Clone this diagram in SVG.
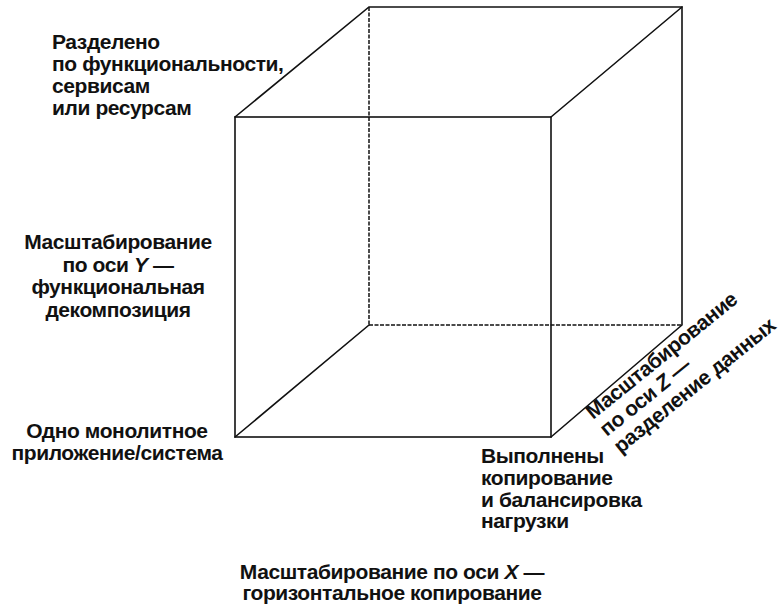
<svg xmlns="http://www.w3.org/2000/svg" width="781" height="607" viewBox="0 0 781 607">
<style>
.e{stroke:#111;stroke-width:1.6;fill:none;stroke-linecap:round}
.h{stroke:#111;stroke-width:1.5;fill:none;stroke-dasharray:4 1.5}
text{font-family:"Liberation Sans",Arial,sans-serif;font-weight:bold;font-size:21px;fill:#111;letter-spacing:-0.4px}
.c{text-anchor:middle}
</style>
<rect width="781" height="607" fill="#fff"/>
<g id="cube">
<g id="hidden-edges">
<line class="h" x1="369" y1="7" x2="369" y2="325"/>
<line class="h" x1="369" y1="325" x2="682" y2="325"/>
</g>
<line class="e" x1="369" y1="325" x2="235" y2="437"/>
<rect class="e" x="235" y="117" width="316" height="320"/>
<polyline class="e" points="235,117 369,7 682,7 682,325 551,437"/>
<line class="e" x1="551" y1="117" x2="682" y2="7"/>
</g>
<g id="label-top">
<text><tspan x="52" y="49">Разделено</tspan><tspan x="52" y="71">по функциональности,</tspan><tspan x="52" y="93">сервисам</tspan><tspan x="52" y="115">или ресурсам</tspan></text>
</g>
<g id="label-y">
<text class="c"><tspan x="118" y="249">Масштабирование</tspan><tspan x="118" y="272">по оси <tspan font-style="italic">Y</tspan> —</tspan><tspan x="118" y="294">функциональная</tspan><tspan x="118" y="317">декомпозиция</tspan></text>
</g>
<g id="label-origin">
<text class="c"><tspan x="117" y="438">Одно монолитное</tspan><tspan x="117" y="460">приложение/система</tspan></text>
</g>
<g id="label-replicated">
<text><tspan x="481" y="463">Выполнены</tspan><tspan x="481" y="485">копирование</tspan><tspan x="481" y="507">и балансировка</tspan><tspan x="481" y="528">нагрузки</tspan></text>
</g>
<g id="label-x">
<text class="c"><tspan x="392" y="579">Масштабирование по оси <tspan font-style="italic">X</tspan> —</tspan><tspan x="392" y="600">горизонтальное копирование</tspan></text>
</g>
<g id="label-z">
<text transform="translate(593,420) rotate(-39)"><tspan x="0" y="0">Масштабирование</tspan><tspan x="0" y="22">по оси <tspan font-style="italic">Z</tspan> —</tspan><tspan x="0" y="44">разделение данных</tspan></text>
</g>
</svg>
